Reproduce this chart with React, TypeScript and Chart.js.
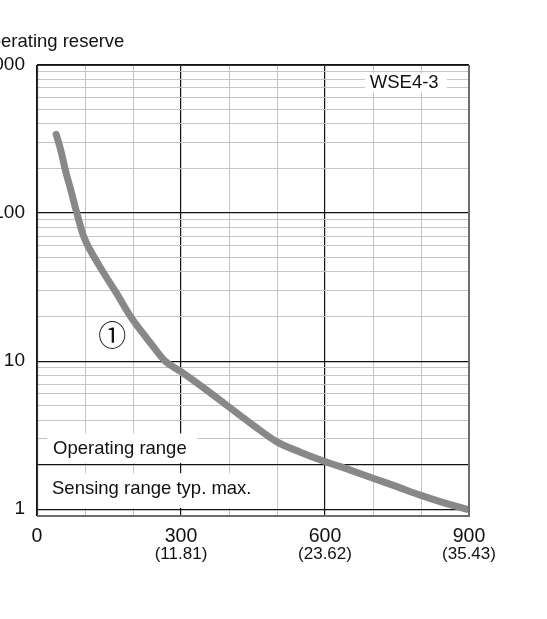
import React, { useEffect, useRef } from "react";
import { Chart, registerables } from "chart.js";

Chart.register(...registerables);

// Sensing distance in mm
const distanceValues = [40, 50, 60, 70, 83, 97, 130, 165, 195, 220, 240, 267, 300, 350, 400, 450, 500, 550, 600, 650, 700, 750, 800, 850, 895];
// Operating reserve
const reserveValues = [340, 262, 190, 145, 100, 70, 44, 29, 20, 15.5, 12.8, 10, 8.5, 6.5, 4.9, 3.7, 2.85, 2.42, 2.1, 1.85, 1.62, 1.42, 1.24, 1.1, 1.0];

const yGridValues = [1, 2, 3, 4, 5, 6, 7, 8, 9, 10, 20, 30, 40, 50, 60, 70, 80, 90, 100, 200, 300, 400, 500, 600, 700, 800, 900, 1000];
const yLabelValues = [1, 10, 100, 1000];
const yDarkLines = [1, 2, 10, 100, 1000];

const xLabelValues = [0, 300, 600, 900];
const xMainLabels = ["0", "300", "600", "900"];
const xSubLabels = ["", "(11.81)", "(23.62)", "(35.43)"];

const titleText = "Operating reserve";
const modelText = "WSE4-3";
const operatingRangeText = "Operating range";
const sensingRangeText = "Sensing range typ. max.";
const curveMarker = "\u2460";

const FONT = '"Liberation Sans", Arial, sans-serif';

const decorPlugin = {
  id: "decor",
  beforeDatasetsDraw(chart: any) {
    const { ctx } = chart;
    const xs = chart.scales.x;
    const ys = chart.scales.y;
    ctx.save();
    ctx.font = `18.5px ${FONT}`;
    ctx.fillStyle = "#fff";
    const l = xs.getPixelForValue(0);
    ctx.fillRect(l + 10, ys.getPixelForValue(3.25), xs.getPixelForValue(334) - l - 10, ys.getPixelForValue(2.05) - ys.getPixelForValue(3.25));
    ctx.fillRect(l + 10, ys.getPixelForValue(1.75), xs.getPixelForValue(455) - l - 10, ys.getPixelForValue(1.02) - ys.getPixelForValue(1.75));
    ctx.fillRect(xs.getPixelForValue(683), ys.getPixelForValue(880), xs.getPixelForValue(854) - xs.getPixelForValue(683), ys.getPixelForValue(650) - ys.getPixelForValue(880));
    ctx.fillStyle = "#111";
    ctx.textBaseline = "middle";
    ctx.textAlign = "left";
    ctx.fillText(operatingRangeText, l + 16, ys.getPixelForValue(2.56));
    ctx.fillText(sensingRangeText, l + 15, ys.getPixelForValue(1.37));
    ctx.textAlign = "center";
    ctx.fillText(modelText, xs.getPixelForValue(765), ys.getPixelForValue(760));
    ctx.font = `28px "Noto Sans CJK JP", "DejaVu Sans", sans-serif`;
    ctx.fillText(curveMarker, xs.getPixelForValue(157), ys.getPixelForValue(15.0));
    ctx.restore();
  },
  afterDatasetsDraw(chart: any) {
    const { ctx, chartArea: a } = chart;
    ctx.save();
    ctx.strokeStyle = "#333";
    ctx.lineWidth = 1.2;
    ctx.beginPath();
    ctx.moveTo(a.left + 0.5, a.bottom);
    ctx.lineTo(a.left + 0.5, a.top + 0.5);
    ctx.lineTo(a.right, a.top + 0.5);
    ctx.stroke();
    ctx.strokeStyle = "#6e6e6e";
    ctx.lineWidth = 2;
    ctx.beginPath();
    ctx.moveTo(a.right, a.top);
    ctx.lineTo(a.right, a.bottom);
    ctx.lineTo(a.left, a.bottom);
    ctx.stroke();
    ctx.restore();
  },
  afterDraw(chart: any) {
    const { ctx } = chart;
    const xs = chart.scales.x;
    ctx.save();
    ctx.fillStyle = "#111";
    ctx.font = `18.5px ${FONT}`;
    ctx.textBaseline = "alphabetic";
    ctx.textAlign = "left";
    const cut = ctx.measureText("Op").width;
    ctx.fillText(titleText, 1 - cut, 47);
    ctx.font = `17px ${FONT}`;
    ctx.textAlign = "center";
    ctx.textBaseline = "middle";
    xLabelValues.forEach((v, i) => {
      if (xSubLabels[i]) ctx.fillText(xSubLabels[i], xs.getPixelForValue(v), 554.5);
    });
    ctx.restore();
  },
};

export default function App() {
  const ref = useRef<HTMLCanvasElement | null>(null);
  useEffect(() => {
    if (!ref.current) return;
    const chart = new Chart(ref.current, {
      type: "line",
      data: {
        datasets: [
          {
            data: distanceValues.map((x, i) => ({ x, y: reserveValues[i] })),
            borderColor: "#888888",
            borderWidth: 7,
            pointRadius: 0,
            tension: 0.4,
            cubicInterpolationMode: "monotone",
            borderCapStyle: "round",
            borderJoinStyle: "round",
            clip: false,
          } as any,
        ],
      },
      options: {
        animation: false,
        responsive: false,
        devicePixelRatio: 1,
        layout: { padding: { left: 0, top: 65, right: 78, bottom: 0 } },
        plugins: { legend: { display: false }, title: { display: false }, tooltip: { enabled: false } },
        scales: {
          x: {
            type: "linear",
            min: 0,
            max: 900,
            afterFit: (s: any) => {
              s.height = 103;
            },
            afterBuildTicks: (s: any) => {
              const t = [];
              for (let v = 0; v <= 900; v += 100) t.push({ value: v });
              s.ticks = t;
            },
            ticks: {
              autoSkip: false,
              maxRotation: 0,
              padding: 9,
              color: "#111",
              font: { family: FONT, size: 19.5 },
              callback: (v: any) => {
                const i = xLabelValues.indexOf(Number(v));
                return i >= 0 ? xMainLabels[i] : "";
              },
            },
            grid: {
              drawTicks: false,
              tickLength: 0,
              color: (c: any) => (c.tick && c.tick.value % 300 === 0 ? "#111" : "#c4c4c4"),
              lineWidth: (c: any) => (c.tick && c.tick.value % 300 === 0 ? 1.2 : 1),
            },
            border: { display: false },
          },
          y: {
            type: "logarithmic",
            min: 0.9,
            max: 1000,
            afterFit: (s: any) => {
              s.width = 37;
            },
            afterBuildTicks: (s: any) => {
              s.ticks = yGridValues.map((v) => ({ value: v }));
            },
            ticks: {
              autoSkip: false,
              padding: 12,
              color: "#111",
              font: { family: FONT, size: 19 },
              callback: (v: any) => (yLabelValues.includes(Number(v)) ? String(v) : ""),
            },
            grid: {
              drawTicks: false,
              tickLength: 0,
              color: (c: any) => (c.tick && yDarkLines.includes(c.tick.value) ? "#111" : "#c4c4c4"),
              lineWidth: (c: any) => (c.tick && yDarkLines.includes(c.tick.value) ? 1.2 : 1),
            },
            border: { display: false },
          },
        },
      },
      plugins: [decorPlugin],
    });
    return () => chart.destroy();
  }, []);
  return (
    <div style={{ position: "absolute", left: 0, top: 0, width: 547, height: 619, background: "#fff" }}>
      <canvas ref={ref} width={547} height={619} style={{ display: "block" }} />
    </div>
  );
}
